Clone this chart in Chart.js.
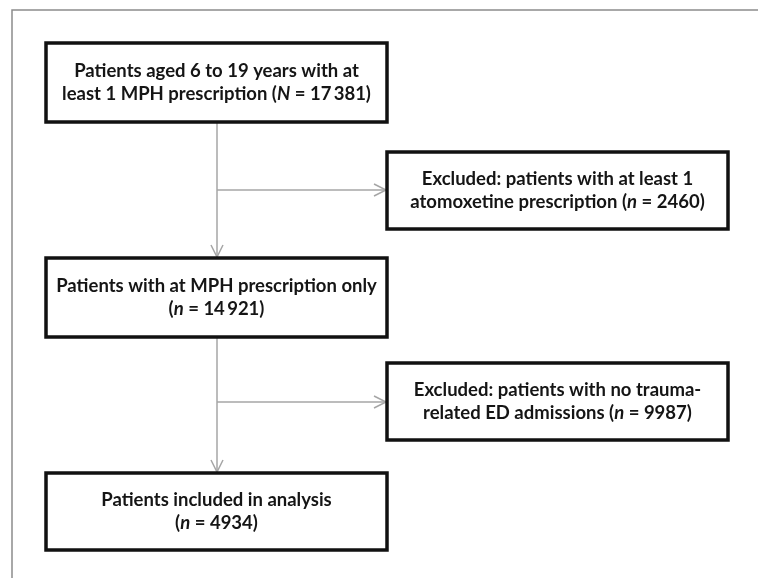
<!DOCTYPE html>
<html>
<head>
<meta charset="utf-8">
<script src="https://cdn.jsdelivr.net/npm/chart.js@4.4.1/dist/chart.umd.min.js"></script>
<style>
  html, body { margin: 0; padding: 0; background: #fff; }
  #wrap { width: 758px; height: 578px; position: relative; }
</style>
</head>
<body>
<div id="wrap"><canvas id="flowChart"></canvas></div>
<script>
// flow stages: text before the count, symbol, count
const stageLines = [
    ["Patients aged 6 to 19 years with at", "least 1 MPH prescription"],
    ["Excluded: patients with at least 1", "atomoxetine prescription"],
    ["Patients with at MPH prescription only", ""],
    ["Excluded: patients with no trauma-", "related ED admissions"],
    ["Patients included in analysis", ""]
];
const countSymbols = ["N", "n", "n", "n", "n"];
const counts = [17381, 2460, 14921, 9987, 4934];
// which stage flows into which (from, to, kind)
const links = [[0, 2, "down"], [0, 1, "side"], [2, 4, "down"], [2, 3, "side"]];

// layout in scale units (page of 758 x 578)
const boxes = [
    { x0: 46, y0: 43, x1: 387, y1: 122 },
    { x0: 387, y0: 152, x1: 728, y1: 229 },
    { x0: 46, y0: 258, x1: 387, y1: 337 },
    { x0: 387, y0: 363, x1: 728, y1: 440 },
    { x0: 46, y0: 473, x1: 387, y1: 550 }
];
const trunkX = 217;
const sideY = [190, 402];
const fontFamily = "Lato, 'Open Sans', sans-serif";
const fontSize = 18.5;

function fmtCount(v) {
    if (v >= 10000) {
        return String(v).replace(/\B(?=(\d{3})+(?!\d))/g, "\u2009");
    }
    return String(v);
}

function drawSegments(ctx, segs, cx, cy) {
    let total = 0;
    segs.forEach(s => {
        ctx.font = (s.it ? "italic " : "") + "bold " + fontSize + "px " + fontFamily;
        s.w = ctx.measureText(s.t).width;
        total += s.w;
    });
    let x = cx - total / 2;
    segs.forEach(s => {
        ctx.font = (s.it ? "italic " : "") + "bold " + fontSize + "px " + fontFamily;
        ctx.fillText(s.t, x, cy);
        x += s.w;
    });
}

function arrowHead(ctx, x, y, dir) {
    const len = 12, half = 6;
    ctx.beginPath();
    if (dir === "down") {
        ctx.moveTo(x - half, y - len);
        ctx.lineTo(x, y);
        ctx.lineTo(x + half, y - len);
    } else {
        ctx.moveTo(x - len, y - half);
        ctx.lineTo(x, y);
        ctx.lineTo(x - len, y + half);
    }
    ctx.stroke();
}

const flowPlugin = {
    id: "flow",
    afterDraw(chart) {
        const ctx = chart.ctx;
        const sx = chart.scales.x, sy = chart.scales.y;
        const px = v => sx.getPixelForValue(v);
        const py = v => sy.getPixelForValue(v);
        ctx.save();

        // outer frame
        ctx.strokeStyle = "#8c8c8c";
        ctx.lineWidth = 1.5;
        ctx.beginPath();
        ctx.moveTo(px(12), py(578));
        ctx.lineTo(px(12), py(10));
        ctx.lineTo(px(758), py(10));
        ctx.stroke();

        // connectors
        ctx.strokeStyle = "#a6a6a6";
        ctx.lineWidth = 1.5;
        let side = 0;
        links.forEach(([a, b, kind]) => {
            const A = boxes[a], B = boxes[b];
            ctx.beginPath();
            if (kind === "down") {
                ctx.moveTo(px(trunkX), py(A.y1));
                ctx.lineTo(px(trunkX), py(B.y0));
                ctx.stroke();
                arrowHead(ctx, px(trunkX), py(B.y0) - 1, "down");
            } else {
                const y = sideY[side++];
                ctx.moveTo(px(trunkX), py(y));
                ctx.lineTo(px(B.x0), py(y));
                ctx.stroke();
                arrowHead(ctx, px(B.x0) - 1, py(y), "right");
            }
        });

        // boxes and text
        boxes.forEach((bx, i) => {
            ctx.strokeStyle = "#111";
            ctx.lineWidth = 3.5;
            ctx.fillStyle = "#fff";
            ctx.fillRect(px(bx.x0), py(bx.y0), px(bx.x1) - px(bx.x0), py(bx.y1) - py(bx.y0));
            ctx.strokeRect(px(bx.x0), py(bx.y0), px(bx.x1) - px(bx.x0), py(bx.y1) - py(bx.y0));

            const cx = (px(bx.x0) + px(bx.x1)) / 2;
            const cy = (py(bx.y0) + py(bx.y1)) / 2;
            const first = stageLines[i][0];
            const pre = stageLines[i][1] ? stageLines[i][1] + " (" : "(";
            const second = [
                { t: pre },
                { t: countSymbols[i], it: true },
                { t: " = " + fmtCount(counts[i]) + ")" }
            ];
            ctx.fillStyle = "#151515";
            ctx.textBaseline = "middle";
            drawSegments(ctx, [{ t: first }], cx, cy - 11.5);
            drawSegments(ctx, second, cx, cy + 11.5);
        });
        ctx.restore();
    }
};

new Chart(document.getElementById("flowChart").getContext("2d"), {
    type: "scatter",
    data: { datasets: [{ data: [], pointRadius: 0 }] },
    options: {
        responsive: true,
        maintainAspectRatio: false,
        animation: false,
        layout: { padding: 0 },
        plugins: { legend: { display: false }, tooltip: { enabled: false } },
        scales: {
            x: { type: "linear", min: 0, max: 758, display: false },
            y: { type: "linear", min: 0, max: 578, reverse: true, display: false }
        }
    },
    plugins: [flowPlugin]
});
</script>
</body>
</html>
